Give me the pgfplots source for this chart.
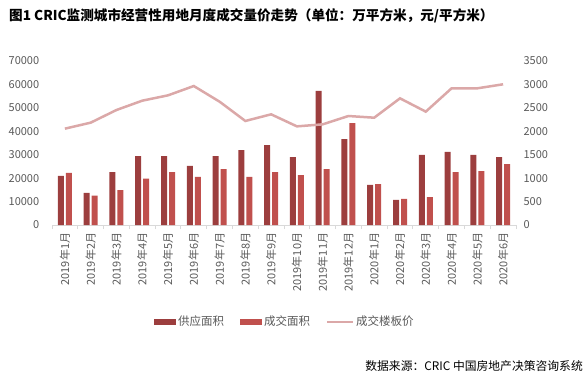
\documentclass[border=0pt]{standalone}
\usepackage{pgfplots}
\pgfplotsset{compat=1.18}
\usepackage{fontspec}
\setmainfont{Noto Sans CJK SC}
\definecolor{supc}{HTML}{9C3E3E}
\definecolor{dealc}{HTML}{C0504D}
\definecolor{linec}{HTML}{DBA8A8}
\definecolor{tickc}{HTML}{595959}
\definecolor{axc}{HTML}{D9D9D9}
\begin{document}
\begin{tikzpicture}
\path[use as bounding box] (0pt,0pt) rectangle (588pt,-387pt);
\node[anchor=west, font=\bfseries\fontsize{13.6}{15}\selectfont, inner sep=0pt] at (9pt,-16pt) {图1 CRIC监测城市经营性用地月度成交量价走势（单位：万平方米，元/平方米）};
\begin{axis}[
  at={(52pt,-225pt)}, anchor=south west, scale only axis,
  width=464pt, height=164pt,
  xmin=-0.5, xmax=17.5, ymin=0, ymax=70000,
  ybar=2pt, bar width=6pt,
  axis x line*=bottom, axis y line*=left,
  y axis line style={draw=none},
  x axis line style={draw=axc, line width=0.8pt},
  tick align=outside,
  ytick={0,10000,...,70000}, major y tick style={draw=none},
  scaled y ticks=false,
  /pgf/number format/.cd, 1000 sep={}, assume math mode=true, /pgfplots/.cd,
  xtick={0,...,17}, major x tick style={draw=none},
  minor xtick={-0.5,0.5,...,17.5}, minor tick length=4pt,
  minor x tick style={draw=axc, line width=0.8pt},
  xticklabels={2019年1月,2019年2月,2019年3月,2019年4月,2019年5月,2019年6月,2019年7月,2019年8月,2019年9月,2019年10月,2019年11月,2019年12月,2020年1月,2020年2月,2020年3月,2020年4月,2020年5月,2020年6月},
  xticklabel style={rotate=90, anchor=east, font=\fontsize{11}{12}\selectfont, color=tickc, xshift=0pt},
  yticklabel style={font=\fontsize{11}{12}\selectfont, color=tickc, xshift=-5pt},
  legend style={at={(0.502,-0.59)}, anchor=center, legend columns=3, draw=none, font=\fontsize{11.5}{13}\selectfont, text=tickc,
    /tikz/every even column/.append style={column sep=14pt}},
  legend image code/.code={\fill[#1] (0pt,-3pt) rectangle (22pt,3pt);},
]
\addplot[fill=supc, draw=none] coordinates {(0,21000)(1,13700)(2,22600)(3,29400)(4,29400)(5,25200)(6,29400)(7,32000)(8,34100)(9,29000)(10,57200)(11,36700)(12,17100)(13,10700)(14,29900)(15,31200)(16,29900)(17,29000)};
\addlegendentry{供应面积}
\addplot[fill=dealc, draw=none] coordinates {(0,22200)(1,12500)(2,14900)(3,19800)(4,22600)(5,20500)(6,23900)(7,20500)(8,22600)(9,21300)(10,23900)(11,43500)(12,17500)(13,11100)(14,11900)(15,22600)(16,23000)(17,26000)};
\addlegendentry{成交面积}
\addlegendimage{legend image code/.code={\draw[linec, line width=2pt] (0pt,0pt) -- (26pt,0pt);}}
\addlegendentry{成交楼板价}
\end{axis}
\begin{axis}[
  at={(52pt,-225pt)}, anchor=south west, scale only axis,
  width=464pt, height=164pt,
  xmin=-0.5, xmax=17.5, ymin=0, ymax=3500,
  axis y line*=right, axis x line=none,
  y axis line style={draw=none},
  ytick={0,500,...,3500}, major y tick style={draw=none},
  scaled y ticks=false,
  /pgf/number format/.cd, 1000 sep={}, assume math mode=true, /pgfplots/.cd,
  yticklabel style={font=\fontsize{11}{12}\selectfont, color=tickc, xshift=4pt},
]
\addplot[linec, line width=2.5pt, mark=none] coordinates {(0,2056)(1,2184)(2,2454)(3,2653)(4,2767)(5,2966)(6,2632)(7,2220)(8,2362)(9,2105)(10,2148)(11,2326)(12,2290)(13,2703)(14,2419)(15,2917)(16,2917)(17,3003)};
\end{axis}
\node[anchor=east, font=\fontsize{11.8}{13}\selectfont, inner sep=0pt] at (583pt,-366pt) {数据来源：CRIC 中国房地产决策咨询系统};
\end{tikzpicture}
\end{document}
